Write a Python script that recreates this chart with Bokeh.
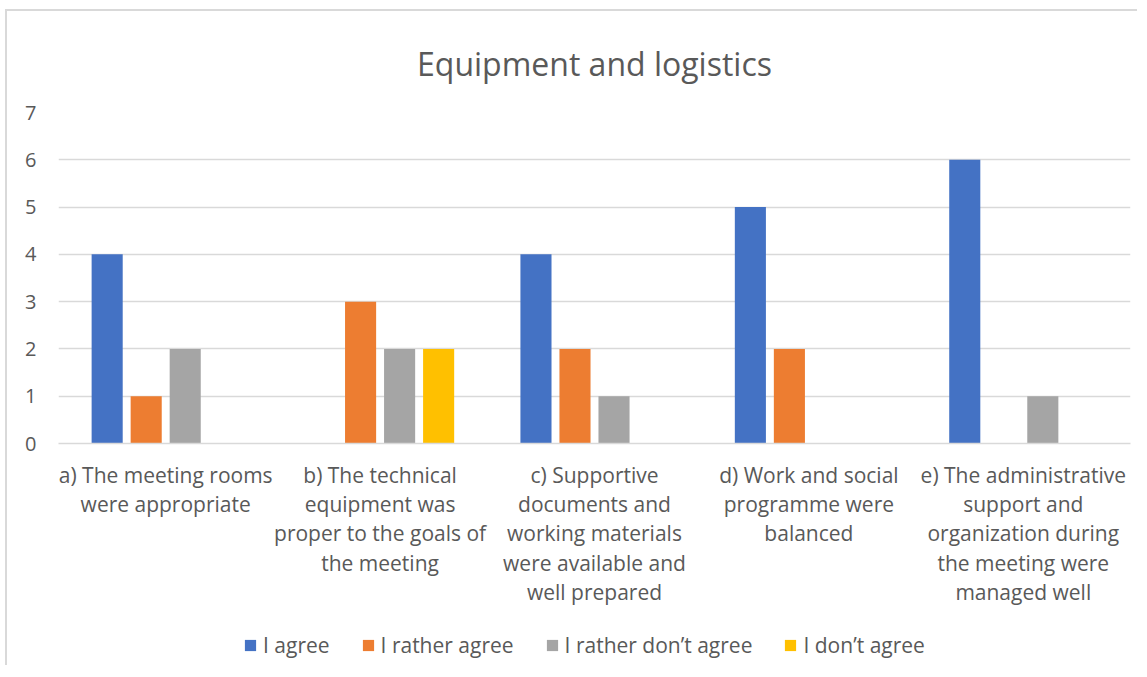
from bokeh.plotting import figure
from bokeh.layouts import column
from bokeh.models import FactorRange, Legend, LegendItem, ColumnDataSource
from bokeh.transform import dodge
from bokeh.embed import file_html
from bokeh.resources import INLINE

categories = [
    "a) The meeting rooms\nwere appropriate",
    "b) The technical\nequipment was\nproper to the goals of\nthe meeting",
    "c) Supportive\ndocuments and\nworking materials\nwere available and\nwell prepared",
    "d) Work and social\nprogramme were\nbalanced",
    "e) The administrative\nsupport and\norganization during\nthe meeting were\nmanaged well",
]
series_names = ["I agree", "I rather agree", "I rather don\u2019t agree", "I don\u2019t agree"]
i_agree = [4, 0, 4, 5, 6]
i_rather_agree = [1, 3, 2, 2, 0]
i_rather_dont_agree = [2, 2, 1, 0, 1]
i_dont_agree = [0, 2, 0, 0, 0]
y_ticks = [0, 1, 2, 3, 4, 5, 6, 7]

colors = ["#4472C4", "#ED7D31", "#A5A5A5", "#FFC000"]
cols = ["s0", "s1", "s2", "s3"]
FONT = "Open Sans"
TXT = "#595959"

src = ColumnDataSource(dict(cat=categories, s0=i_agree, s1=i_rather_agree,
                            s2=i_rather_dont_agree, s3=i_dont_agree))

p = figure(x_range=FactorRange(*categories), y_range=(0, 7),
           width=1130, height=620, output_backend="svg", toolbar_location=None,
           min_border_left=51, min_border_right=7, min_border_top=99,
           min_border_bottom=188)

p.title.text = "Equipment and logistics"
p.title.align = "center"
p.title.text_font = FONT
p.title.text_font_size = "32px"
p.title.text_font_style = "normal"
p.title.text_color = TXT
p.title.standoff = 56

offsets = [-0.273, -0.091, 0.091, 0.273]
for i, col in enumerate(cols):
    p.vbar(x=dodge("cat", offsets[i], range=p.x_range), top=col, width=0.145,
           source=src, fill_color=colors[i], line_color=None)

p.outline_line_color = None
p.background_fill_color = "white"
p.border_fill_color = "white"

p.xgrid.grid_line_color = None
p.ygrid.grid_line_color = "#d9d9d9"
p.ygrid.grid_line_width = 1.3
p.yaxis.ticker = y_ticks
p.yaxis.axis_line_color = None
p.yaxis.major_tick_line_color = None
p.yaxis.minor_tick_line_color = None
p.yaxis.major_label_standoff = 16
p.yaxis.major_label_text_font = FONT
p.yaxis.major_label_text_font_size = "20px"
p.yaxis.major_label_text_color = TXT

p.xaxis.axis_line_color = "#d9d9d9"
p.xaxis.axis_line_width = 1.3
p.xaxis.major_tick_line_color = None
p.xaxis.minor_tick_line_color = None
p.xaxis.major_label_standoff = 11
p.xaxis.major_label_text_font = FONT
p.xaxis.major_label_text_font_size = "21px"
p.xaxis.major_label_text_color = TXT
p.xaxis.major_label_text_line_height = 1.05
p.xaxis.major_label_orientation = "horizontal"
p.x_range.range_padding = 0
p.x_range.group_padding = 0

# legend strip
p2 = figure(x_range=FactorRange(*categories), y_range=(0, 7),
            width=1130, height=34, output_backend="svg", toolbar_location=None,
            x_axis_location=None, y_axis_location=None, min_border=0)
p2.grid.visible = False
p2.outline_line_color = None
p2.background_fill_color = "white"
p2.border_fill_color = "white"
leg_renderers = []
for i, col in enumerate(cols):
    r = p2.vbar(x="cat", top=col, width=0.145, source=src,
                fill_color=colors[i], line_color=None)
    r.visible = False
    leg_renderers.append(r)

legend = Legend(items=[LegendItem(label=series_names[i], renderers=[leg_renderers[i]]) for i in range(4)],
                orientation="horizontal", location=(185, 6))
legend.label_text_font = FONT
legend.label_text_font_size = "21px"
legend.label_text_color = TXT
legend.glyph_width = 14
legend.glyph_height = 14
legend.spacing = 31
legend.label_standoff = 6
legend.padding = 0
legend.margin = 0
legend.border_line_color = None
legend.background_fill_alpha = 0
p2.add_layout(legend, "center")

layout = column(p, p2, spacing=0)
layout.styles = {"margin-top": "9px", "margin-left": "5px",
                 "border-left": "2px solid #d9d9d9", "border-top": "2px solid #d9d9d9"}

open("out.html", "w").write(file_html(layout, INLINE))
